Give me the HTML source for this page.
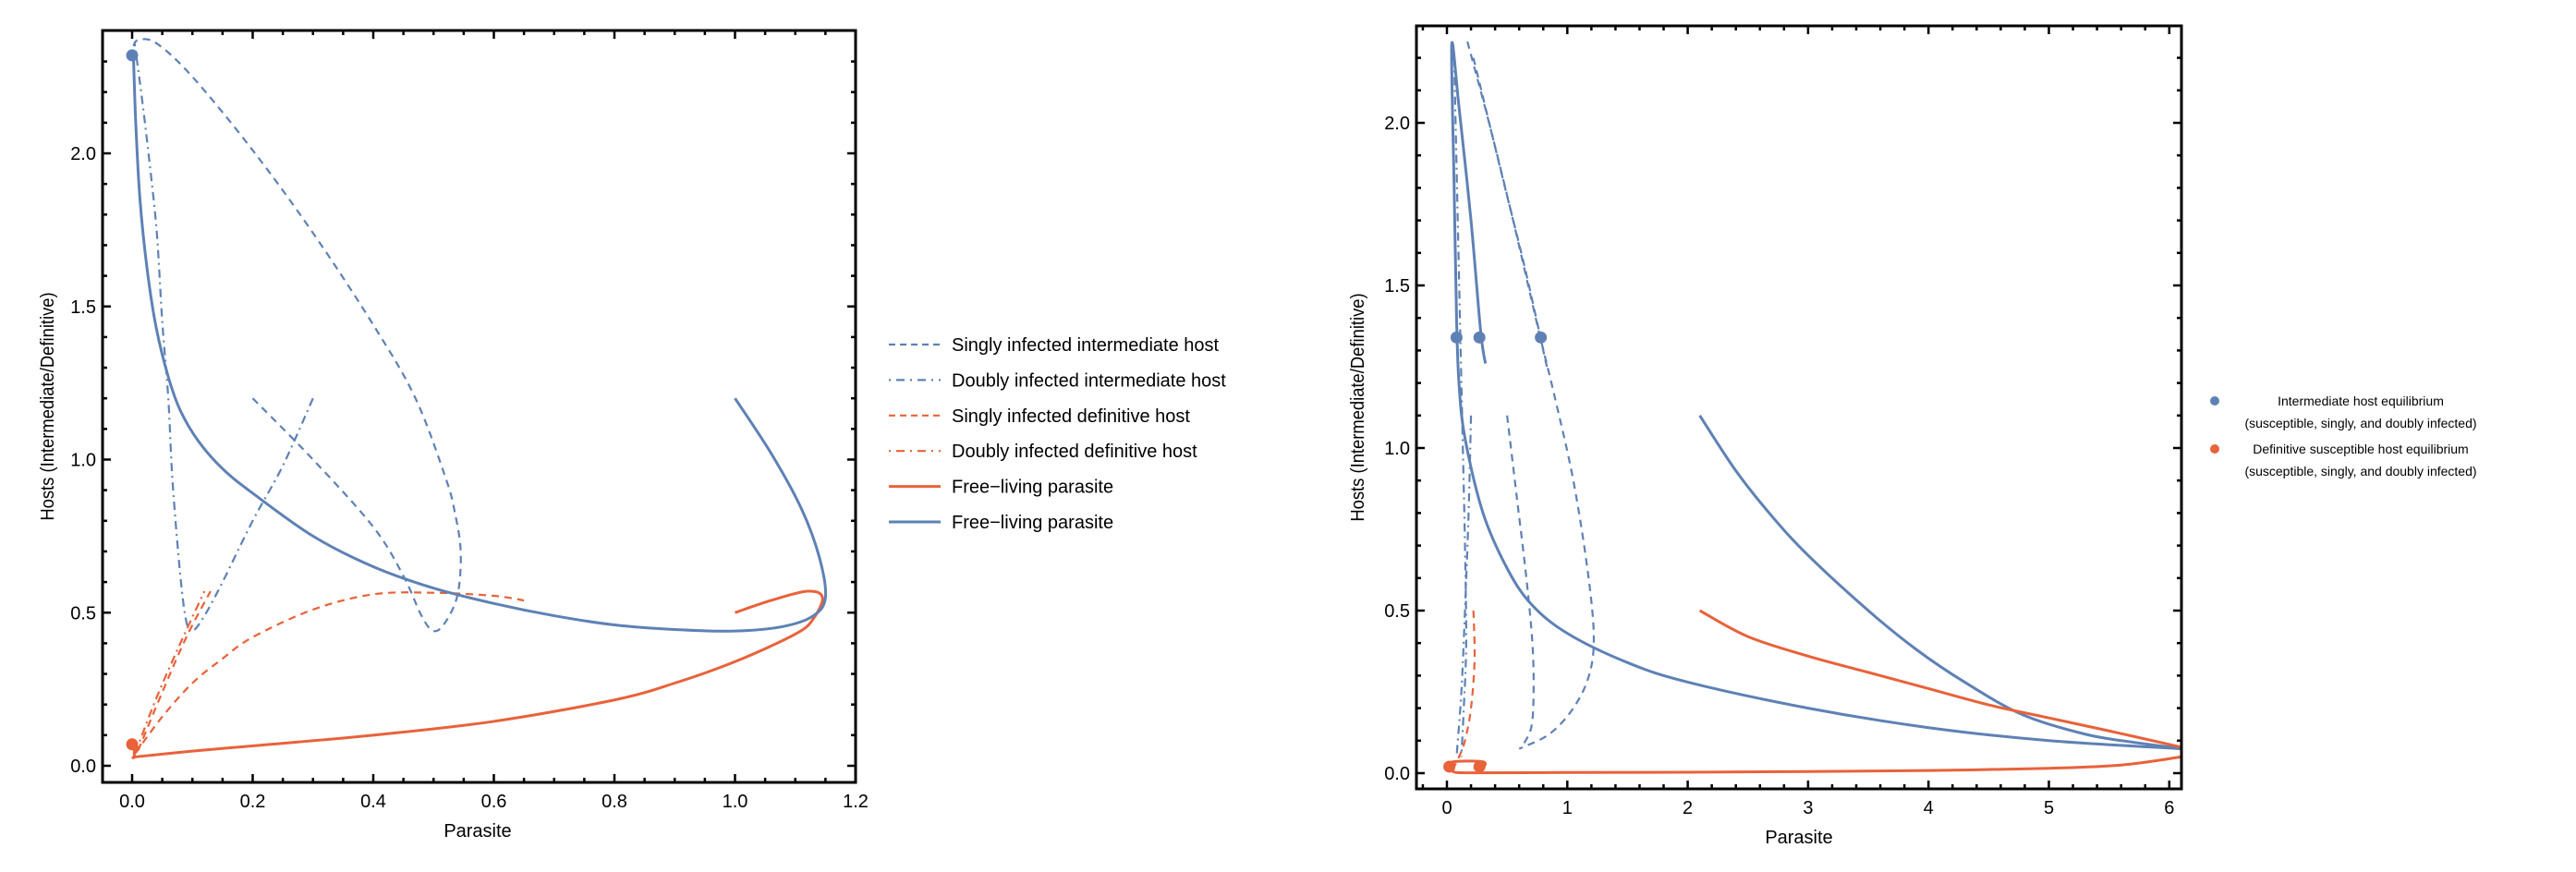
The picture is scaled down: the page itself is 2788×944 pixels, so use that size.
<!DOCTYPE html>
<html><head><meta charset="utf-8">
<style>
html,body{margin:0;padding:0;background:#fff;}
svg{display:block;font-family:"Liberation Sans",Arial,sans-serif;}
</style></head>
<body>
<svg id="fig" width="2788" height="944" viewBox="0 0 2788 944" xmlns="http://www.w3.org/2000/svg">
<g id="left"></g>
<g id="right"></g>
<g id="legend1"></g>
<g id="legend2"></g>
</svg>
<script>
const BLUE = "#5e81b5", ORANGE = "#e8623a";
// ---------- LEFT CHART DATA ----------
const leftXTicks = [0.0, 0.2, 0.4, 0.6, 0.8, 1.0, 1.2];
const leftYTicks = [0.0, 0.5, 1.0, 1.5, 2.0];
const leftBlueSolidX = [1.0, 1.06, 1.11, 1.14, 1.15, 1.13, 1.08, 1.0, 0.9, 0.8, 0.7, 0.6, 0.5, 0.4, 0.3, 0.2, 0.15, 0.11, 0.08, 0.06, 0.04, 0.025, 0.013, 0.006, 0.002];
const leftBlueSolidY = [1.2, 1.02, 0.84, 0.68, 0.55, 0.49, 0.455, 0.44, 0.445, 0.46, 0.49, 0.53, 0.58, 0.65, 0.75, 0.89, 0.97, 1.06, 1.16, 1.27, 1.43, 1.62, 1.85, 2.1, 2.33];
const leftBlueDashX = [0.2, 0.3, 0.4, 0.45, 0.48, 0.5, 0.52, 0.54, 0.545, 0.535, 0.52, 0.47, 0.4, 0.3, 0.2, 0.1, 0.04, 0.01, 0.002];
const leftBlueDashY = [1.2, 1.0, 0.78, 0.62, 0.49, 0.44, 0.47, 0.56, 0.7, 0.83, 0.94, 1.2, 1.44, 1.74, 2.01, 2.25, 2.36, 2.37, 2.35];
const leftBlueDotDashX = [0.3, 0.25, 0.2, 0.15, 0.12, 0.1, 0.09, 0.08, 0.067, 0.06, 0.05, 0.041, 0.03, 0.02, 0.011, 0.004];
const leftBlueDotDashY = [1.2, 0.98, 0.8, 0.6, 0.49, 0.44, 0.47, 0.62, 0.93, 1.2, 1.45, 1.74, 1.95, 2.12, 2.26, 2.36];
const leftOrangeDashX = [0.005, 0.05, 0.1, 0.15, 0.2, 0.3, 0.4, 0.5, 0.6, 0.65];
const leftOrangeDashY = [0.04, 0.16, 0.27, 0.35, 0.42, 0.51, 0.56, 0.565, 0.555, 0.54];
const leftOrangeDash2X = [0.01, 0.05, 0.09, 0.13];
const leftOrangeDash2Y = [0.05, 0.24, 0.42, 0.57];
const leftOrangeDotDashX = [0.005, 0.04, 0.08, 0.12];
const leftOrangeDotDashY = [0.04, 0.22, 0.4, 0.57];
const leftOrangeSolidX = [1.0, 1.06, 1.12, 1.145, 1.13, 1.1, 1.0, 0.9, 0.8, 0.6, 0.4, 0.2, 0.1, 0.01, 0.004, 0.004];
const leftOrangeSolidY = [0.5, 0.54, 0.57, 0.55, 0.48, 0.43, 0.34, 0.27, 0.215, 0.145, 0.1, 0.065, 0.048, 0.03, 0.03, 0.07];
const leftDotsX = [0.0, 0.0];
const leftDotsY = [2.32, 0.07];
// ---------- RIGHT CHART DATA ----------
const rightXTicks = [0, 1, 2, 3, 4, 5, 6];
const rightYTicks = [0.0, 0.5, 1.0, 1.5, 2.0];
const rightBlueSolidAX = [2.1, 2.4, 2.7, 3.0, 3.5, 3.9, 4.3, 4.78, 5.3, 5.7, 6.1];
const rightBlueSolidAY = [1.1, 0.93, 0.79, 0.67, 0.5, 0.38, 0.28, 0.18, 0.12, 0.095, 0.076];
const rightBlueSolidBX = [0.32, 0.28, 0.2, 0.1, 0.04, 0.06, 0.08, 0.1, 0.15, 0.3, 0.5, 0.7, 1.0, 1.5, 2.0, 3.0, 4.0, 5.0, 6.1];
const rightBlueSolidBY = [1.26, 1.36, 1.7, 2.05, 2.24, 1.8, 1.4, 1.2, 1.03, 0.8, 0.63, 0.52, 0.43, 0.34, 0.28, 0.2, 0.14, 0.1, 0.075];
const rightBlueDashAX = [0.17, 0.35, 0.55, 0.75, 0.9, 1.05, 1.17, 1.22, 1.18, 1.05, 0.85, 0.6];
const rightBlueDashAY = [2.25, 2.0, 1.7, 1.38, 1.15, 0.9, 0.62, 0.42, 0.3, 0.2, 0.12, 0.075];
const rightBlueDashBX = [0.22, 0.45, 0.65, 0.83];
const rightBlueDashBY = [2.2, 1.85, 1.55, 1.25];
const rightBlueDashCX = [0.5, 0.58, 0.66, 0.71, 0.72, 0.7, 0.62];
const rightBlueDashCY = [1.1, 0.85, 0.6, 0.4, 0.25, 0.14, 0.08];
const rightBlueDotDashX = [0.06, 0.09, 0.12, 0.15, 0.16, 0.14, 0.12];
const rightBlueDotDashY = [2.2, 1.7, 1.2, 0.7, 0.4, 0.2, 0.05];
const rightBlueDotDash2X = [0.2, 0.18, 0.15, 0.12, 0.08];
const rightBlueDotDash2Y = [1.1, 0.8, 0.5, 0.25, 0.05];
const rightOrangeDashX = [0.22, 0.23, 0.2, 0.15, 0.1, 0.06];
const rightOrangeDashY = [0.5, 0.35, 0.2, 0.1, 0.05, 0.02];
const rightOrangeSolidAX = [2.1, 2.5, 3.0, 3.5, 4.0, 4.5, 5.0, 5.5, 6.1];
const rightOrangeSolidAY = [0.5, 0.42, 0.36, 0.31, 0.26, 0.21, 0.17, 0.13, 0.08];
const rightOrangeSolidBX = [6.1, 5.6, 5.0, 4.0, 3.0, 2.0, 1.0, 0.2, 0.05, 0.02, 0.05, 0.3, 0.3];
const rightOrangeSolidBY = [0.05, 0.025, 0.015, 0.008, 0.005, 0.003, 0.002, 0.001, 0.005, 0.02, 0.035, 0.035, 0.015];
const rightBlueDotsX = [0.08, 0.27, 0.78];
const rightBlueDotsY = [1.34, 1.34, 1.34];
const rightOrangeDotsX = [0.02, 0.27];
const rightOrangeDotsY = [0.02, 0.02];

const NS = "http://www.w3.org/2000/svg";
function mk(tag, attrs, parent){ const e=document.createElementNS(NS,tag); for(const k in attrs) e.setAttribute(k,attrs[k]); parent.appendChild(e); return e; }

function smoothPath(px){
  if(px.length<3) return "M"+px.map(p=>p.join(",")).join("L");
  let d="M"+px[0][0]+","+px[0][1];
  for(let i=0;i<px.length-1;i++){
    const p0=px[Math.max(0,i-1)],p1=px[i],p2=px[i+1],p3=px[Math.min(px.length-1,i+2)];
    const c1=[p1[0]+(p2[0]-p0[0])/6,p1[1]+(p2[1]-p0[1])/6];
    const c2=[p2[0]-(p3[0]-p1[0])/6,p2[1]-(p3[1]-p1[1])/6];
    d+=" C"+c1.join(",")+" "+c2.join(",")+" "+p2.join(",");
  }
  return d;
}

function makeAxes(cfg){
  const sx=v=>cfg.px0+(v-cfg.x0)*cfg.kx;
  const sy=v=>cfg.py0-(v-cfg.y0)*cfg.ky;
  return {sx,sy};
}

function drawFrame(g, cfg, ax, xTicks, yTicks, xMinor, yMinor, xFmt, yFmt){
  const L=cfg.left,R=cfg.right,T=cfg.top,B=cfg.bottom;
  for(let v=cfg.xmin; v<=cfg.xmax+1e-9; v+=xMinor){
    const vv=Math.round(v/xMinor)*xMinor; const x=ax.sx(vv);
    if(x<L+1||x>R-1) continue;
    const major=xTicks.some(t=>Math.abs(t-vv)<1e-6); const len=major?9:5;
    const t1=mk("line",{x1:x,y1:B,x2:x,y2:B-len,stroke:"#000","stroke-width":2.5},g);
     
    const t2=mk("line",{x1:x,y1:T,x2:x,y2:T+len,stroke:"#000","stroke-width":2.5},g);
     
  }
  for(let v=cfg.ymin; v<=cfg.ymax+1e-9; v+=yMinor){
    const vv=Math.round(v/yMinor)*yMinor; const y=ax.sy(vv);
    if(y<T+1||y>B-1) continue;
    const major=yTicks.some(t=>Math.abs(t-vv)<1e-6); const len=major?9:5;
    const t1=mk("line",{x1:L,y1:y,x2:L+len,y2:y,stroke:"#000","stroke-width":2.5},g);
     
    const t2=mk("line",{x1:R,y1:y,x2:R-len,y2:y,stroke:"#000","stroke-width":2.5},g);
     
  }
  const fr=mk("rect",{x:L,y:T,width:R-L,height:B-T,fill:"none",stroke:"#000","stroke-width":3},g);
   
  xTicks.forEach(v=>{
    const t=mk("text",{x:ax.sx(v),y:B+27,"text-anchor":"middle","font-size":20,fill:"#000"},g);
    t.textContent=xFmt(v);
     
  });
  yTicks.forEach(v=>{
    const t=mk("text",{x:L-7,y:ax.sy(v)+7,"text-anchor":"end","font-size":20,fill:"#000"},g);
    t.textContent=yFmt(v);
     
  });
  const xl=mk("text",{x:cfg.xlabX,y:cfg.xlabY,"text-anchor":"middle","font-size":20,fill:"#000"},g);
  xl.textContent="Parasite";
   
  const yl=mk("text",{x:0,y:0,"text-anchor":"middle","font-size":20,fill:"#000",transform:`translate(${cfg.ylabX},${(T+B)/2}) rotate(-90) scale(0.92,1)`},g);
  yl.textContent="Hosts (Intermediate/Definitive)";
   
}

function drawSeries(g, ax, xs, ys, color, style, name, clipId){
  const px=xs.map((x,i)=>[ax.sx(x),ax.sy(ys[i])]);
  const attrs={d:smoothPath(px),fill:"none",stroke:color,"stroke-width":style==="solid"?3:2.2,"stroke-linejoin":"round","clip-path":`url(#${clipId})`};
  if(style==="dash") attrs["stroke-dasharray"]="8,6";
  if(style==="dotdash") attrs["stroke-dasharray"]="9,5,2,5";
  const p=mk("path",attrs,g);
  
  
}
function drawDots(g, ax, xs, ys, color, name){
  xs.forEach((x,i)=>{
    const c=mk("circle",{cx:ax.sx(x),cy:ax.sy(ys[i]),r:6.5,fill:color},g);
    
    
  });
}
function addClip(id,cfg){
  const svg=document.getElementById("fig");
  let defs=svg.querySelector("defs"); if(!defs){defs=document.createElementNS(NS,"defs"); svg.insertBefore(defs,svg.firstChild);}
  const cp=mk("clipPath",{id:id},defs);
  mk("rect",{x:cfg.left,y:cfg.top,width:cfg.right-cfg.left,height:cfg.bottom-cfg.top},cp);
}

// LEFT
const cfgL={left:111,right:926,top:33,bottom:847,px0:143,x0:0,kx:652.5,py0:829,y0:0,ky:331.5,
  xmin:-0.05,xmax:1.2,ymin:0,ymax:2.4,xlabX:517,xlabY:906,ylabX:58};
const axL=makeAxes(cfgL);
const gL=document.getElementById("left");
addClip("clipL",cfgL);
drawSeries(gL,axL,leftBlueDashX,leftBlueDashY,BLUE,"dash","singly-intermediate-line","clipL");
drawSeries(gL,axL,leftBlueDotDashX,leftBlueDotDashY,BLUE,"dotdash","doubly-intermediate-line","clipL");
drawSeries(gL,axL,leftOrangeDashX,leftOrangeDashY,ORANGE,"dash","singly-definitive-line","clipL");
drawSeries(gL,axL,leftOrangeDash2X,leftOrangeDash2Y,ORANGE,"dash","singly-definitive-line-2","clipL");
drawSeries(gL,axL,leftOrangeDotDashX,leftOrangeDotDashY,ORANGE,"dotdash","doubly-definitive-line","clipL");
drawSeries(gL,axL,leftOrangeSolidX,leftOrangeSolidY,ORANGE,"solid","free-living-parasite-orange","clipL");
drawSeries(gL,axL,leftBlueSolidX,leftBlueSolidY,BLUE,"solid","free-living-parasite-blue","clipL");
drawDots(gL,axL,[leftDotsX[0]],[leftDotsY[0]],BLUE,"intermediate-equilibrium-dot");
drawDots(gL,axL,[leftDotsX[1]],[leftDotsY[1]],ORANGE,"definitive-equilibrium-dot");
drawFrame(gL,cfgL,axL,leftXTicks,leftYTicks,0.05,0.1,v=>v.toFixed(1),v=>v.toFixed(1));

// RIGHT
const cfgR={left:1533,right:2361,top:28,bottom:854,px0:1566,x0:0,kx:130.3,py0:837,y0:0,ky:352,
  xmin:-0.2,xmax:6.1,ymin:0,ymax:2.3,xlabX:1947,xlabY:913,ylabX:1476};
const axR=makeAxes(cfgR);
const gR=document.getElementById("right");
addClip("clipR",cfgR);
drawSeries(gR,axR,rightBlueDashAX,rightBlueDashAY,BLUE,"dash","singly-intermediate-line","clipR");
drawSeries(gR,axR,rightBlueDashBX,rightBlueDashBY,BLUE,"dash","singly-intermediate-line-2","clipR");
drawSeries(gR,axR,rightBlueDashCX,rightBlueDashCY,BLUE,"dash","singly-intermediate-line-3","clipR");
drawSeries(gR,axR,rightBlueDotDashX,rightBlueDotDashY,BLUE,"dotdash","doubly-intermediate-line","clipR");
drawSeries(gR,axR,rightBlueDotDash2X,rightBlueDotDash2Y,BLUE,"dotdash","doubly-intermediate-line-2","clipR");
drawSeries(gR,axR,rightOrangeDashX,rightOrangeDashY,ORANGE,"dash","singly-definitive-line","clipR");
drawSeries(gR,axR,rightBlueSolidBX,rightBlueSolidBY,BLUE,"solid","free-living-parasite-blue","clipR");
drawSeries(gR,axR,rightBlueSolidAX,rightBlueSolidAY,BLUE,"solid","free-living-parasite-blue-2","clipR");
drawSeries(gR,axR,rightOrangeSolidAX,rightOrangeSolidAY,ORANGE,"solid","free-living-parasite-orange","clipR");
drawSeries(gR,axR,rightOrangeSolidBX,rightOrangeSolidBY,ORANGE,"solid","free-living-parasite-orange-2","clipR");
drawDots(gR,axR,rightBlueDotsX,rightBlueDotsY,BLUE,"intermediate-equilibrium-dot");
drawDots(gR,axR,rightOrangeDotsX,rightOrangeDotsY,ORANGE,"definitive-equilibrium-dot");
drawFrame(gR,cfgR,axR,rightXTicks,rightYTicks,0.2,0.1,v=>String(v),v=>v.toFixed(1));

// LEGEND 1
const leg1Labels=["Singly infected intermediate host","Doubly infected intermediate host","Singly infected definitive host","Doubly infected definitive host","Free\u2212living parasite","Free\u2212living parasite"];
const leg1Colors=[BLUE,BLUE,ORANGE,ORANGE,ORANGE,BLUE];
const leg1Styles=["dash","dotdash","dash","dotdash","solid","solid"];
const g1=document.getElementById("legend1");
leg1Labels.forEach((lab,i)=>{
  const y=373+i*38.4;
  const a={x1:962,y1:y,x2:1018,y2:y,stroke:leg1Colors[i],"stroke-width":leg1Styles[i]==="solid"?3:2.2};
  if(leg1Styles[i]==="dash") a["stroke-dasharray"]="7,5";
  if(leg1Styles[i]==="dotdash") a["stroke-dasharray"]="2,6,9,6";
  const l=mk("line",a,g1);
   
  const t=mk("text",{x:1030,y:y+7,"font-size":20,fill:"#000"},g1);
  t.textContent=lab;
   
});
// LEGEND 2
const g2=document.getElementById("legend2");
[["Intermediate host equilibrium","(susceptible, singly, and doubly infected)",BLUE,434],
 ["Definitive susceptible host equilibrium","(susceptible, singly, and doubly infected)",ORANGE,486]].forEach(r=>{
  const c=mk("circle",{cx:2397,cy:r[3],r:5,fill:r[2]},g2);
   
  const t1=mk("text",{x:2555,y:r[3]+5,"text-anchor":"middle","font-size":14,fill:"#000"},g2);
  t1.textContent=r[0];
   
  const t2=mk("text",{x:2555,y:r[3]+29,"text-anchor":"middle","font-size":14,fill:"#000"},g2);
  t2.textContent=r[1];
   
});
</script>
</body></html>
